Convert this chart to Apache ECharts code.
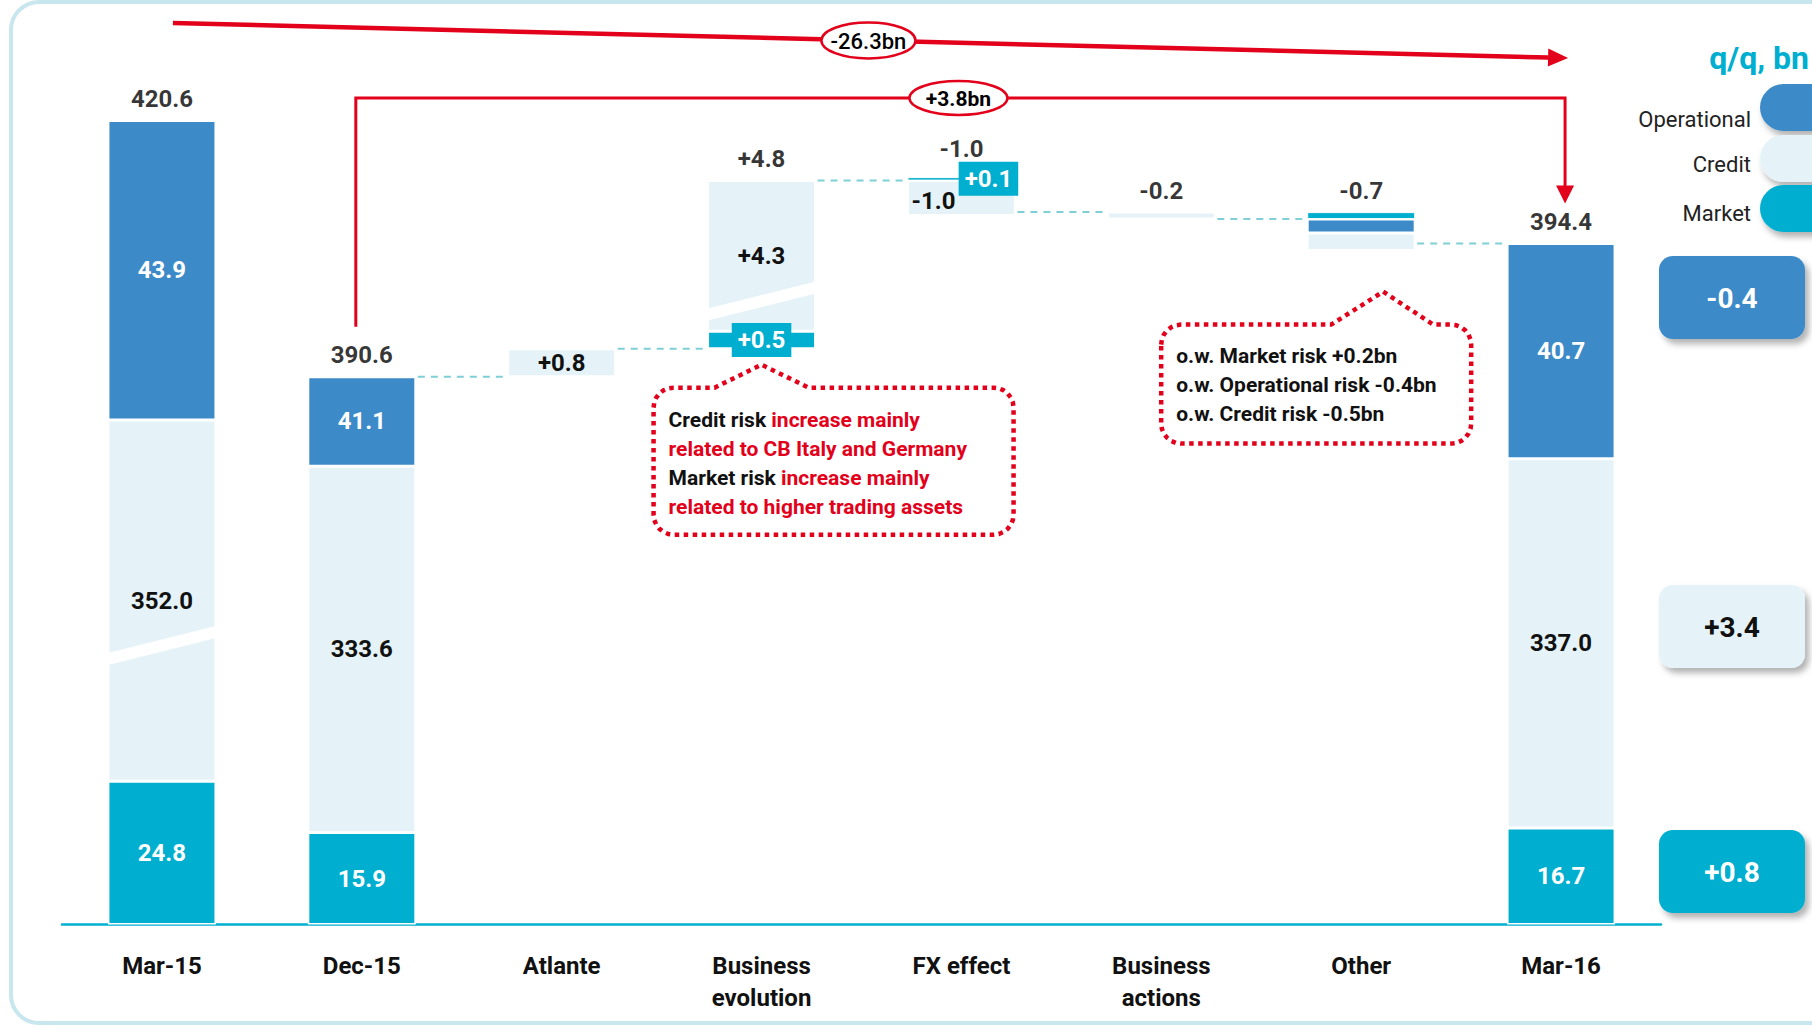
<!DOCTYPE html>
<html><head><meta charset="utf-8">
<script src="https://cdn.jsdelivr.net/npm/echarts@6/dist/echarts.min.js"></script>
<style>html,body{margin:0;padding:0;background:#fff}#c{width:1812px;height:1028px}</style>
</head><body><div id="c"></div>
<script>
// ---------------- DATA ----------------
const categories = ['Mar-15','Dec-15','Atlante','Business\nevolution','FX effect','Business\nactions','Other','Mar-16'];
// stock bars (bn): Mar-15, Dec-15, Mar-16
const totalIdx = [0, 1, 7];
const totalMarket = [24.8, 15.9, 16.7];
const totalCredit = [352.0, 333.6, 337.0];
const totalOperational = [43.9, 41.1, 40.7];
const totalValues = [420.6, 390.6, 394.4];
// bridge steps (bn): Atlante, Business evolution, FX effect, Business actions, Other
const stepIdx = [2, 3, 4, 5, 6];
const stepMarket = [0, 0.5, 0.1, 0, 0.2];
const stepCredit = [0.8, 4.3, -1.0, -0.2, -0.5];
const stepOperational = [0, 0, 0, 0, -0.4];
const stepLabels = ['+0.8', '+4.8', '-1.0', '-0.2', '-0.7'];
// q/q change Mar-16 vs Dec-15: Operational, Credit, Market
const qqLabels = ['-0.4', '+3.4', '+0.8'];
const bracketLabels = ['-26.3bn', '+3.8bn'];

// ---------------- STYLE ----------------
const FONT = 'Roboto, "Noto Sans", sans-serif';
const C_OP = '#3d8ac8', C_CR = '#e5f3f8', C_MK = '#00aecf', C_RED = '#e2001a', C_DASH = '#7fcfd6';
const BAR_W = 108;

// ---------------- BUILD STACKS ----------------
const N = categories.length;
const base = Array(N).fill(0), mk = Array(N).fill(0), cr = Array(N).fill(0), op = Array(N).fill(0), mkTop = Array(N).fill(0);
const topVal = Array(N).fill(0), endLevel = Array(N).fill(0);
totalIdx.forEach((ci, k) => {
  mk[ci] = totalMarket[k]; cr[ci] = totalCredit[k]; op[ci] = totalOperational[k];
  topVal[ci] = totalMarket[k] + totalCredit[k] + totalOperational[k];
  endLevel[ci] = totalValues[k];
});
let level = totalValues[1];
stepIdx.forEach((ci, k) => {
  const m = stepMarket[k], c = stepCredit[k], o = stepOperational[k];
  const neg = Math.min(m, 0) + Math.min(c, 0) + Math.min(o, 0);
  if (neg === 0) { base[ci] = level; mk[ci] = m; cr[ci] = c; op[ci] = o; }
  else {
    base[ci] = level + neg;
    cr[ci] = Math.abs(Math.min(c, 0)); op[ci] = Math.abs(Math.min(o, 0));
    mkTop[ci] = Math.max(m, 0);
  }
  topVal[ci] = base[ci] + mk[ci] + cr[ci] + op[ci] + mkTop[ci];
  level = +(level + m + c + o).toFixed(2);
  endLevel[ci] = level;
});
const fmtSigned = v => (v > 0 ? '+' : '') + v.toFixed(1);

const lbl = (extra) => Object.assign({show: true, position: 'inside', fontFamily: FONT, fontWeight: 'bold', fontSize: 24}, extra);
const boxLbl = (extra) => lbl(Object.assign({color: '#fff', backgroundColor: C_MK, padding: [6, 6, 4, 6]}, extra));

const mkData = mk.map((v, i) => {
  if (!v) return {value: 0, label: {show: false}};
  if (totalIdx.includes(i)) return {value: v, label: lbl({color: '#fff', formatter: v.toFixed(1)})};
  return {value: v, label: boxLbl({formatter: fmtSigned(v)})};
});
const crData = cr.map((v, i) => {
  if (!v) return {value: 0, label: {show: false}};
  if (totalIdx.includes(i)) return {value: v, label: lbl({color: '#111', formatter: v.toFixed(1)})};
  const k = stepIdx.indexOf(i);
  const c = stepCredit[k];
  if (i === 5 || i === 6) return {value: v, label: {show: false}};
  if (c < 0) return {value: v, label: lbl({color: '#111', formatter: fmtSigned(c), offset: [-28, 3]})};
  return {value: v, label: lbl({color: '#111', formatter: fmtSigned(c)})};
});
const opData = op.map((v, i) => {
  if (!v) return {value: 0, label: {show: false}};
  if (totalIdx.includes(i)) return {value: v, label: lbl({color: '#fff', formatter: v.toFixed(1)})};
  return {value: v, label: {show: false}};
});
const mkTopData = mkTop.map((v, i) => {
  if (!v) return {value: 0, label: {show: false}};
  if (i === 4) return {value: v, label: boxLbl({formatter: fmtSigned(v), offset: [27, 0]})};
  return {value: v, label: {show: false}};
});
const topLabelData = categories.map((c, i) => {
  const t = totalIdx.includes(i) ? totalValues[totalIdx.indexOf(i)].toFixed(1) : (i === 2 ? '' : stepLabels[stepIdx.indexOf(i)]);
  const item = {value: [i, topVal[i], t]};
  if (mkTop[i] && i === 4) item.label = {distance: 16};
  return item;
});
const connectors = [];
for (let i = 1; i < N - 1; i++) connectors.push([i, endLevel[i]]);

const barCommon = {type: 'bar', stack: 'rwa', barWidth: BAR_W, itemStyle: {borderColor: '#fff', borderWidth: 1.5}};

const chart = echarts.init(document.getElementById('c'), null, {renderer: 'svg', width: 1812, height: 1028});
chart.setOption({
  animation: false,
  backgroundColor: '#fff',
  grid: {left: 62, right: 151, top: 110, bottom: 103.5},
  xAxis: {
    type: 'category', data: categories,
    axisLine: {lineStyle: {color: C_MK, width: 2.5}}, axisTick: {show: false},
    axisLabel: {interval: 0, fontFamily: FONT, fontSize: 24, fontWeight: 'bold', color: '#111', lineHeight: 32, margin: 25}
  },
  yAxis: {
    type: 'value', min: 0, max: 421,
    breaks: [
      {start: 0, end: 25, gap: '17.74%'},
      {start: 25.02, end: 350, gap: '38.5%'},
      {start: 350.02, end: 390, gap: '8.27%'},
      {start: 397, end: 420, gap: '0.93%'}
    ],
    breakArea: {show: false},
    axisLine: {show: false}, axisTick: {show: false}, axisLabel: {show: false}, splitLine: {show: false}
  },
  series: [
    Object.assign({}, barCommon, {name: 'base', data: base, itemStyle: {color: 'transparent', borderWidth: 0}, emphasis: {disabled: true}}),
    Object.assign({}, barCommon, {name: 'Market', data: mkData, itemStyle: {color: C_MK, borderColor: '#fff', borderWidth: 1.5}}),
    Object.assign({}, barCommon, {name: 'Credit', data: crData, itemStyle: {color: C_CR, borderColor: '#fff', borderWidth: 1.5}}),
    Object.assign({}, barCommon, {name: 'Operational', data: opData, itemStyle: {color: C_OP, borderColor: '#fff', borderWidth: 1.5}}),
    Object.assign({}, barCommon, {name: 'MarketTop', data: mkTopData, itemStyle: {color: C_MK, borderColor: '#fff', borderWidth: 1}}),
    {
      type: 'scatter', name: 'labels', data: topLabelData, symbolSize: 1, itemStyle: {color: 'transparent'},
      label: {show: true, position: 'top', distance: 9, fontFamily: FONT, fontWeight: 'bold', fontSize: 24, color: '#000', formatter: p => p.value[2]},
      z: 5
    },
    {
      type: 'custom', name: 'connectors', data: connectors, encode: {x: 0, y: 1},
      renderItem: (params, api) => {
        const i = api.value(0), lv = api.value(1);
        const p1 = api.coord([i, lv]), p2 = api.coord([i + 1, lv]);
        return {type: 'line', shape: {x1: p1[0] + BAR_W / 2 + 2, y1: p1[1], x2: p2[0] - BAR_W / 2 - 2, y2: p2[1]},
          style: {stroke: C_DASH, lineWidth: 2, lineDash: [7, 6]}};
      }
    }
  ]
});

// ---------------- ANNOTATIONS ----------------
const px = (i, v) => chart.convertToPixel({xAxisIndex: 0, yAxisIndex: 0}, [i, v]);
const g = [];
const txt = (text, x, y, font, fill, align) => ({type: 'text', z: 20, silent: true,
  style: {text, x, y, font, fill, align: align || 'center', textAlign: align || 'center', verticalAlign: 'middle', textVerticalAlign: 'middle'}});

// frame
g.push({type: 'rect', z: 0, silent: true, shape: {x: 11, y: 2, width: 1840, height: 1021, r: 28}, style: {fill: 'none', stroke: '#c8e6ee', lineWidth: 4}});

// slashes (axis-break marks)
const slash = (cx, cy) => ({type: 'polygon', z: 15, silent: true,
  shape: {points: [[cx - BAR_W / 2 - 2, cy + 8], [cx + BAR_W / 2 + 2, cy - 20], [cx + BAR_W / 2 + 2, cy - 8], [cx - BAR_W / 2 - 2, cy + 20]]},
  style: {fill: '#fff'}});
{
  const x0 = px(0, 0)[0];
  const yb = px(0, mk[0])[1], yt = px(0, mk[0] + cr[0])[1];
  g.push(slash(x0, (yb + yt) / 2 + 45));
  const x3 = px(3, 0)[0];
  const yb3 = px(3, base[3] + mk[3])[1], yt3 = px(3, base[3] + mk[3] + cr[3])[1];
  g.push(slash(x3, yt3 + 0.8 * (yb3 - yt3)));
}

// big arrow -26.3bn
{
  const x1 = px(0, 0)[0] + 11, y1 = 23, x2 = px(7, 0)[0] + 7, y2 = 58;
  const dx = x2 - x1, dy = y2 - y1, L = Math.hypot(dx, dy), ux = dx / L, uy = dy / L;
  const bx = x2 - ux * 20, by = y2 - uy * 20;
  g.push({type: 'line', z: 10, silent: true, shape: {x1, y1, x2: bx, y2: by}, style: {stroke: C_RED, lineWidth: 4.5}});
  g.push({type: 'polygon', z: 10, silent: true, shape: {points: [[x2, y2], [bx - uy * 9, by + ux * 9], [bx + uy * 9, by - ux * 9]]}, style: {fill: C_RED}});
  const cx = px(4, 0)[0] - 93, cy = y1 + (cx - x1) / dx * dy;
  g.push({type: 'ellipse', z: 11, silent: true, shape: {cx, cy, rx: 47, ry: 18}, style: {fill: '#fff', stroke: C_RED, lineWidth: 2.5}});
  g.push(txt(bracketLabels[0], cx, cy + 1, '500 22px ' + FONT, '#000'));
}
// bracket +3.8bn
{
  const xD = px(1, 0)[0] - 6, yS = px(1, totalValues[1])[1] - 50, yT = 98;
  const xM = px(7, 0)[0] + 4, tip = px(7, totalValues[2])[1] - 40;
  g.push({type: 'polyline', z: 10, silent: true, shape: {points: [[xD, yS], [xD, yT], [xM, yT], [xM, tip - 16]]}, style: {stroke: C_RED, lineWidth: 3, fill: 'none'}});
  g.push({type: 'polygon', z: 10, silent: true, shape: {points: [[xM - 9, tip - 18], [xM + 9, tip - 18], [xM, tip]]}, style: {fill: C_RED}});
  const cx = px(4, 0)[0] - 3;
  g.push({type: 'ellipse', z: 11, silent: true, shape: {cx, cy: yT, rx: 49, ry: 17}, style: {fill: '#fff', stroke: C_RED, lineWidth: 2.5}});
  g.push(txt(bracketLabels[1], cx, yT + 1, 'bold 21px ' + FONT, '#000'));
}

// callout bubbles (rounded box with a peak on the top edge)
function bubblePoints(x, y, w, h, r, ax, ay, bl, br) {
  const pts = [];
  const arc = (cx, cy, a0, a1) => { for (let t = 0; t <= 6; t++) { const a = a0 + (a1 - a0) * t / 6; pts.push([cx + r * Math.cos(a), cy + r * Math.sin(a)]); } };
  arc(x + r, y + r, Math.PI, 1.5 * Math.PI);
  pts.push([bl, y], [ax, ay], [br, y]);
  arc(x + w - r, y + r, 1.5 * Math.PI, 2 * Math.PI);
  arc(x + w - r, y + h - r, 0, 0.5 * Math.PI);
  arc(x + r, y + h - r, 0.5 * Math.PI, Math.PI);
  return pts;
}
const richBase = {fontFamily: FONT, fontSize: 21, fontWeight: 'bold', lineHeight: 29};
{
  const ax = px(3, 0)[0], ay = px(3, base[3])[1] + 16;
  const bx = ax - 108, by = ay + 23, bw = 360, bh = 147;
  g.push({type: 'polygon', z: 12, silent: true, shape: {points: bubblePoints(bx, by, bw, bh, 20, ax, ay, ax - 47, ax + 47)},
    style: {fill: '#fff', stroke: C_RED, lineWidth: 4.5, lineDash: [4.5, 4.5]}});
  g.push({type: 'text', z: 13, silent: true, style: {
    x: bx + 15, y: by + 18, verticalAlign: 'top', textVerticalAlign: 'top', align: 'left', textAlign: 'left',
    text: '{k|Credit risk }{r|increase mainly}\n{r|related to CB Italy and Germany}\n{k|Market risk }{r|increase mainly}\n{r|related to higher trading assets}',
    rich: {k: Object.assign({fill: '#111', color: '#111'}, richBase), r: Object.assign({fill: C_RED, color: C_RED}, richBase)}
  }});
}
{
  const ax = px(6, 0)[0] + 22, ay = px(6, base[6])[1] + 41;
  const bx = ax - 222, by = ay + 33, bw = 310, bh = 119;
  g.push({type: 'polygon', z: 12, silent: true, shape: {points: bubblePoints(bx, by, bw, bh, 20, ax, ay, ax - 52, ax + 50)},
    style: {fill: '#fff', stroke: C_RED, lineWidth: 4.5, lineDash: [4.5, 4.5]}});
  g.push({type: 'text', z: 13, silent: true, style: {
    x: bx + 15, y: by + 17, verticalAlign: 'top', textVerticalAlign: 'top', align: 'left', textAlign: 'left',
    text: '{k|o.w. Market risk +0.2bn}\n{k|o.w. Operational risk -0.4bn}\n{k|o.w. Credit risk -0.5bn}',
    rich: {k: Object.assign({fill: '#111', color: '#111'}, richBase)}
  }});
}

// legend
g.push(txt('q/q, bn', 1809, 58, 'bold 32px ' + FONT, C_MK, 'right'));
const legNames = ['Operational', 'Credit', 'Market'];
const legCols = [C_OP, C_CR, C_MK];
const pillY = [84, 135, 185], legTextY = [119, 164, 213];
legNames.forEach((n, k) => {
  g.push({type: 'rect', z: 8, silent: true, shape: {x: 1760, y: pillY[k], width: 90, height: 47, r: [24, 0, 0, 24]},
    style: {fill: legCols[k], shadowBlur: 6, shadowOffsetX: 3, shadowOffsetY: 5, shadowColor: 'rgba(0,0,0,0.3)'}});
  g.push(txt(n, 1751, legTextY[k], '22px ' + FONT, '#222', 'right'));
});
// q/q boxes
const qqY = [297, 626, 871];
const qqTxt = ['#fff', '#111', '#fff'];
qqLabels.forEach((t, k) => {
  g.push({type: 'rect', z: 8, silent: true, shape: {x: 1659, y: qqY[k] - 41, width: 146, height: 83, r: 14},
    style: {fill: legCols[k], shadowBlur: 6, shadowOffsetX: 4, shadowOffsetY: 5, shadowColor: 'rgba(0,0,0,0.3)'}});
  g.push(txt(t, 1659 + 73, qqY[k] + 1, 'bold 28px ' + FONT, qqTxt[k]));
});

chart.setOption({graphic: {elements: g}});
</script>
</body></html>
